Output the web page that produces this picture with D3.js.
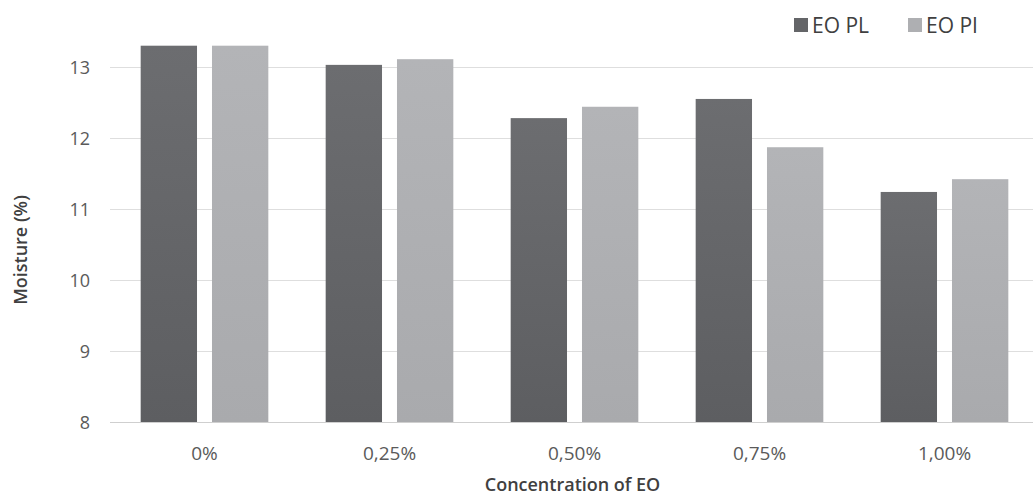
<!DOCTYPE html>
<html>
<head>
<meta charset="utf-8">
<script src="https://cdn.jsdelivr.net/npm/d3@7"></script>
<style>
  html, body { margin: 0; padding: 0; background: #ffffff; }
  svg { display: block; }
  text { font-family: "Open Sans", "DejaVu Sans", sans-serif; }
</style>
</head>
<body>
<svg id="chart" width="1033" height="498"></svg>
<script>
// Moisture content by essential-oil concentration
const categories = ["0%", "0,25%", "0,50%", "0,75%", "1,00%"];
const seriesNames = ["EO PL", "EO PI"];
const eoPL = [13.30, 13.03, 12.28, 12.55, 11.24];
const eoPI = [13.30, 13.11, 12.44, 11.87, 11.42];
const yTicks = [8, 9, 10, 11, 12, 13];

const seriesValues = [eoPL, eoPI];
const rows = categories.map((c, i) => ({
  category: c,
  values: seriesNames.map((s, k) => ({ series: s, value: seriesValues[k][i] }))
}));

const svg = d3.select("#chart");
const W = 1033, H = 498;
const plot = { left: 112, right: 1037, top: 67, bottom: 422 };

const x0 = d3.scaleBand()
  .domain(categories)
  .range([plot.left, plot.right])
  .paddingInner(0.31)
  .paddingOuter(0.155);

const x1 = d3.scaleBand()
  .domain(seriesNames)
  .range([0, x0.bandwidth()])
  .paddingInner(0.21);

const y = d3.scaleLinear().domain([8, 13]).range([plot.bottom, plot.top]);

// bar fills with a faint vertical shade
const defs = svg.append("defs");
const shades = {
  "EO PL": ["#6c6d70", "#5d5e61"],
  "EO PI": ["#b3b4b7", "#a9aaad"]
};
const gradId = s => "g-" + s.replace(/\s+/g, "");
seriesNames.forEach(s => {
  const g = defs.append("linearGradient")
    .attr("id", gradId(s))
    .attr("x1", 0).attr("y1", 0).attr("x2", 0).attr("y2", 1);
  g.append("stop").attr("offset", "0%").attr("stop-color", shades[s][0]);
  g.append("stop").attr("offset", "100%").attr("stop-color", shades[s][1]);
});
const legendColor = { "EO PL": "#646568", "EO PI": "#aeafb2" };

// horizontal gridlines
svg.append("g")
  .selectAll("line")
  .data(yTicks)
  .join("line")
  .attr("x1", plot.left - 2)
  .attr("x2", W)
  .attr("y1", d => Math.round(y(d)) + 0.5)
  .attr("y2", d => Math.round(y(d)) + 0.5)
  .attr("stroke", d => d === 8 ? "#cfcfcf" : "#dedede")
  .attr("stroke-width", 1.2);

// y axis labels
const yAxis = d3.axisLeft(y).tickValues(yTicks).tickFormat(d3.format("d")).tickSize(0).tickPadding(0);
const yg = svg.append("g")
  .attr("transform", `translate(${90},0)`)
  .call(yAxis);
yg.select(".domain").remove();
yg.selectAll("text")
  .attr("font-family", "'Open Sans', sans-serif")
  .attr("font-size", 18)
  .attr("fill", "#5a5a5a")
  .attr("dy", "0.35em");

// bars
const groups = svg.append("g")
  .selectAll("g")
  .data(rows)
  .join("g")
  .attr("transform", d => `translate(${x0(d.category)},0)`);

groups.selectAll("rect")
  .data(d => d.values)
  .join("rect")
  .attr("x", d => x1(d.series))
  .attr("width", x1.bandwidth())
  .attr("y", d => y(d.value))
  .attr("height", d => y(8) - y(d.value))
  .attr("fill", d => `url(#${gradId(d.series)})`);

// x axis labels
const xAxis = d3.axisBottom(x0).tickSize(0).tickPadding(0);
const xg = svg.append("g")
  .attr("transform", `translate(0,${446})`)
  .call(xAxis);
xg.select(".domain").remove();
xg.selectAll("text")
  .attr("font-family", "'Open Sans', sans-serif")
  .attr("font-size", 19)
  .attr("fill", "#5a5a5a")
  .attr("dy", "0.71em");

// axis titles
svg.append("text")
  .attr("x", (plot.left + plot.right) / 2 - 2)
  .attr("y", 491)
  .attr("text-anchor", "middle")
  .attr("font-size", 18)
  .attr("font-weight", 600)
  .attr("fill", "#404040")
  .text("Concentration of EO");

svg.append("text")
  .attr("transform", `translate(${27},${250}) rotate(-90)`)
  .attr("text-anchor", "middle")
  .attr("font-size", 18)
  .attr("font-weight", 600)
  .attr("fill", "#404040")
  .text("Moisture (%)");

// legend
const legendX = [794, 908];
const legend = svg.append("g")
  .selectAll("g")
  .data(seriesNames)
  .join("g")
  .attr("transform", (d, i) => `translate(${legendX[i]},${18})`);
legend.append("rect")
  .attr("width", 14).attr("height", 14)
  .attr("fill", d => legendColor[d]);
legend.append("text")
  .attr("x", 18)
  .attr("y", 15)
  .attr("font-size", 21)
  .attr("fill", "#404040")
  .text(d => d);
</script>
</body>
</html>
